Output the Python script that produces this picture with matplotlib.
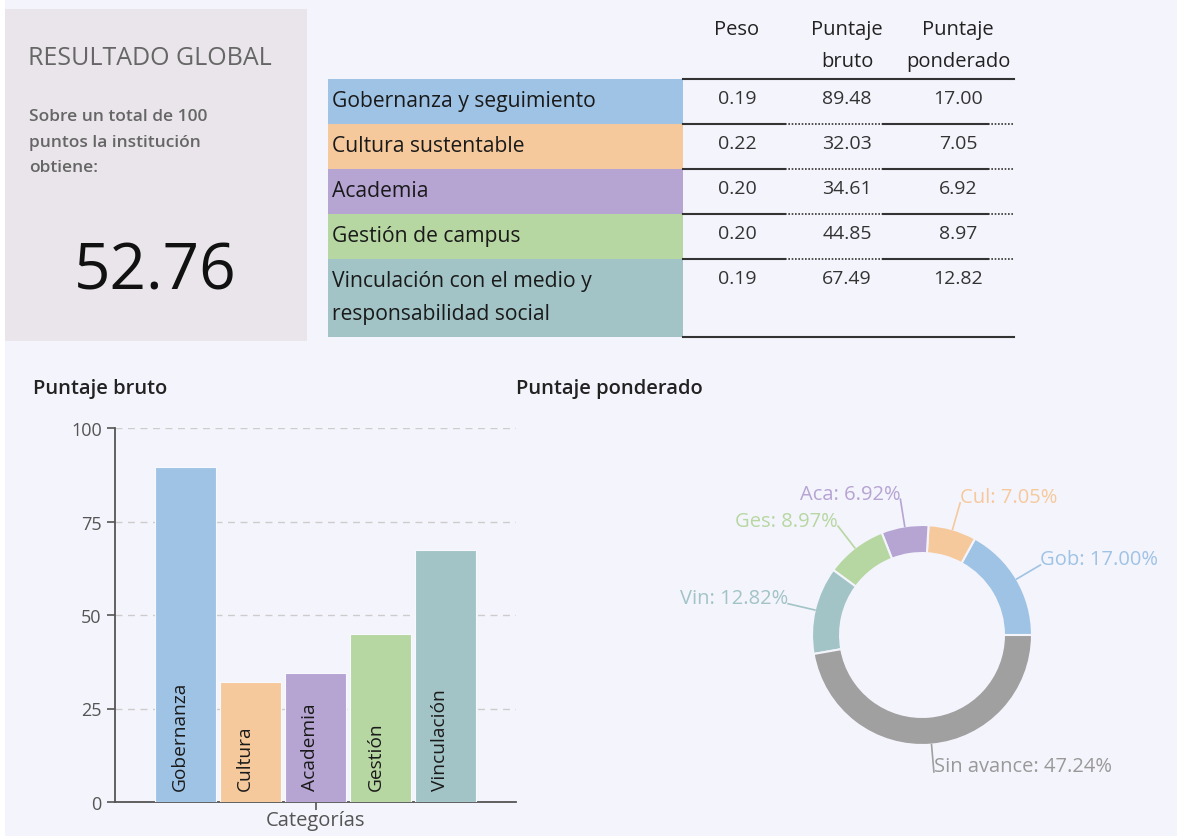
import numpy as np
import matplotlib
matplotlib.use('Agg')
from matplotlib import pyplot as plt
from matplotlib.patches import Rectangle

plt.rcParams['font.family'] = ['Open Sans', 'DejaVu Sans']

# datos
dimensiones = ['Gobernanza y seguimiento', 'Cultura sustentable', 'Academia',
               'Gestión de campus', 'Vinculación con el medio y\nresponsabilidad social']
cortos = ['Gobernanza', 'Cultura', 'Academia', 'Gestión', 'Vinculación']
abrev = ['Gob', 'Cul', 'Aca', 'Ges', 'Vin']
peso = [0.19, 0.22, 0.20, 0.20, 0.19]
bruto = [89.48, 32.03, 34.61, 44.85, 67.49]
ponderado = [17.00, 7.05, 6.92, 8.97, 12.82]
total = 52.76
sin_avance = 47.24
colores = ['#9fc3e5', '#f6c99c', '#b6a4d3', '#b7d7a2', '#a2c4c6']
gris = '#a0a0a0'
fondo = '#f4f4fc'

fig = plt.figure(figsize=(11.77, 8.37), dpi=100, facecolor=fondo)

# capa de fondo en pixeles
ov = fig.add_axes([0, 0, 1, 1])
ov.set_xlim(0, 1177)
ov.set_ylim(837, 0)
ov.axis('off')
ov.add_patch(Rectangle((0, 0), 5, 837, color='white', lw=0))

# caja resultado global
ov.add_patch(Rectangle((5, 10), 302, 332, color='#e9e5ea', lw=0))
ov.text(28, 58, 'RESULTADO GLOBAL', fontsize=18, color='#666666', va='center')
ov.text(29, 109, 'Sobre un total de 100\npuntos la institución\nobtiene:', fontsize=12.5,
        color='#666666', va='top', linespacing=1.8, fontweight='semibold')
ov.text(155, 272, f'{total:.2f}', fontsize=46, color='#111111', ha='center', va='center')

# tabla
x0, x1, xe = 328, 683, 1014
cols = [737, 847, 958]
ov.text(cols[0], 20, 'Peso', fontsize=14.5, color='#222222', ha='center', va='top')
ov.text(cols[1], 20, 'Puntaje\nbruto', fontsize=14.5, color='#222222', ha='center', va='top', linespacing=1.8)
ov.text(cols[2], 20, 'Puntaje\nponderado', fontsize=14.5, color='#222222', ha='center', va='top', linespacing=1.8)
alturas = [45, 45, 45, 45, 78]
y = 80
ov.plot([x1, xe], [y, y], color='#333333', lw=1.5)
for i, nombre in enumerate(dimensiones):
    h = alturas[i]
    ov.add_patch(Rectangle((x0, y), x1 - x0, h, color=colores[i], lw=0))
    ov.text(x0 + 4, y + 11, nombre, fontsize=15.2, color='#1a1a1a', va='top', linespacing=1.75)
    for c, v in zip(cols, [peso[i], bruto[i], ponderado[i]]):
        ov.text(c, y + 10, f'{v:.2f}', fontsize=14, color='#333333', ha='center', va='top')
    y += h
    if i < len(dimensiones) - 1:
        ov.plot([683, 785], [y, y], color='#333333', lw=1.5)
        ov.plot([785, 883], [y, y], color='#333333', lw=1.2, ls=(0, (1, 1)))
        ov.plot([883, 988], [y, y], color='#333333', lw=1.5)
        ov.plot([988, xe], [y, y], color='#333333', lw=1.2, ls=(0, (1, 1)))
ov.plot([x1, xe], [y, y], color='#333333', lw=1.5)

ov.text(33, 389, 'Puntaje bruto', fontsize=14.5, color='#222222', va='center', fontweight='semibold')
ov.text(516, 389, 'Puntaje ponderado', fontsize=14.5, color='#222222', va='center', fontweight='semibold')

# barras
ax = fig.add_axes([115 / 1177, 34 / 837, 401 / 1177, 374 / 837])
ax.set_facecolor('none')
xs = np.arange(len(bruto))
ax.bar(xs, bruto, width=0.93, color=colores, edgecolor='#f8f8ff', lw=0.8, zorder=3)
for xi, nom in zip(xs, cortos):
    ax.text(xi - 0.08, 3.2, nom, rotation=90, ha='center', va='bottom', fontsize=13.75,
            color='#1a1a1a', zorder=4)
ax.set_xlim(-1.08, 5.08)
ax.set_ylim(0, 100)
ax.set_yticks([0, 25, 50, 75, 100])
ax.yaxis.grid(True, ls=(0, (5, 4)), color='#cccccc', lw=1, zorder=0)
ax.set_axisbelow(True)
ax.set_xticks([2])
ax.set_xticklabels([''])
ax.set_xlabel('Categorías', fontsize=14.5, color='#555555', labelpad=-4)
for s in ['top', 'right']:
    ax.spines[s].set_visible(False)
for s in ['left', 'bottom']:
    ax.spines[s].set_color('#555555')
    ax.spines[s].set_linewidth(1.3)
ax.tick_params(axis='y', colors='#555555', labelsize=13, length=6, width=1.2)
ax.tick_params(axis='x', colors='#555555', length=6, width=1.2)

# dona
ad = fig.add_axes([680 / 1177, 14 / 837, 484 / 1177, 374 / 837])
ad.set_facecolor('none')
valores = ponderado + [sin_avance]
etiquetas = [f'{a}: {v:.2f}%' for a, v in zip(abrev, ponderado)] + [f'Sin avance: {sin_avance:.2f}%']
cols_d = colores + [gris]
wedges, _ = ad.pie(valores, colors=cols_d, startangle=0, counterclock=True, radius=1,
                   wedgeprops=dict(width=0.255, edgecolor=fondo, linewidth=1.5))
for w, lab, c in zip(wedges, etiquetas, cols_d):
    t = np.deg2rad((w.theta1 + w.theta2) / 2)
    p1 = np.array([np.cos(t), np.sin(t)])
    p2 = p1 * 1.25
    ad.plot([p1[0], p2[0]], [p1[1], p2[1]], color=c, lw=1.2)
    ha = 'left' if np.cos(t) > 0 else 'right'
    tc = '#999999' if c == gris else c
    ad.text(p2[0], p2[1] - 0.04, lab, ha=ha, va='bottom', fontsize=14.5, color=tc)
ad.set_xlim(-2.2, 2.2)
ad.set_ylim(-1.7, 1.7)
ad.set_aspect('auto')
ad.axis('off')

fig.savefig('out.png', dpi=100, facecolor=fondo)
